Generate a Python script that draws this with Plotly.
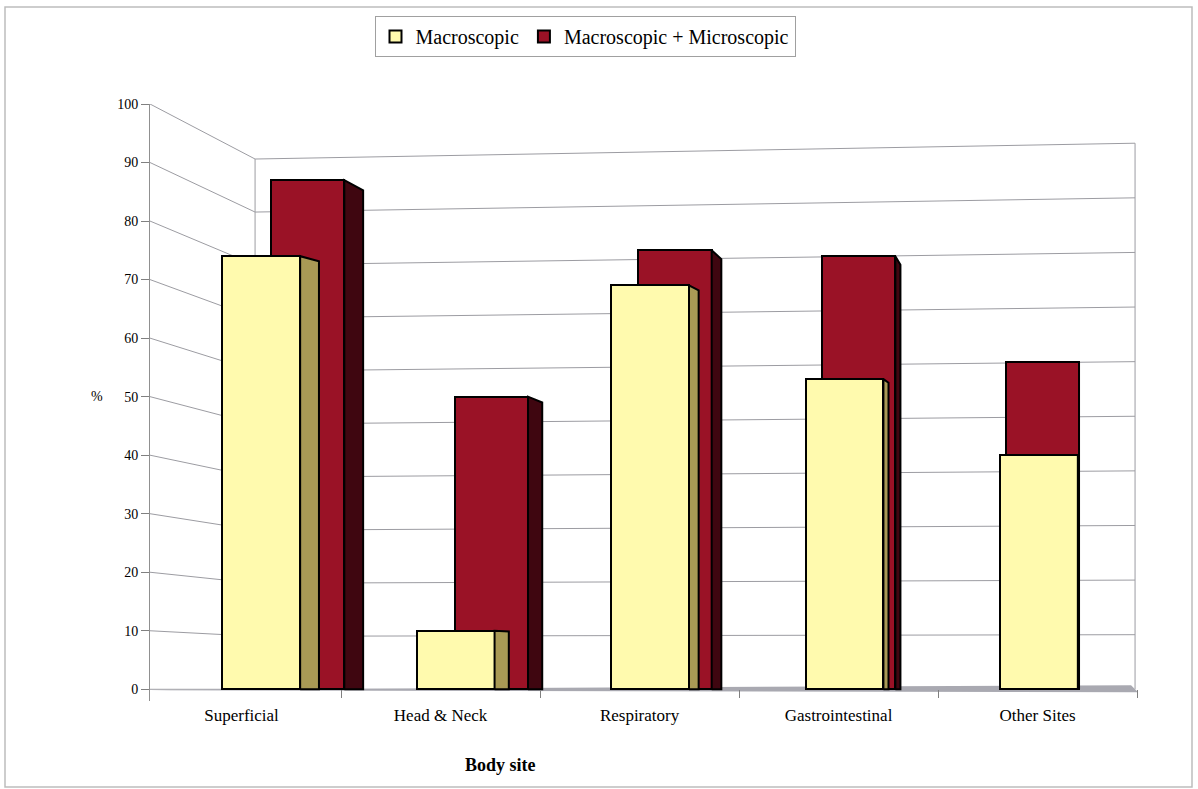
import plotly.graph_objects as go

# ---- data -------------------------------------------------------------
categories = ["Superficial", "Head & Neck", "Respiratory", "Gastrointestinal", "Other Sites"]
macroscopic = [74, 10, 69, 53, 40]
macro_micro = [87, 50, 75, 74, 56]
y_ticks = [0, 10, 20, 30, 40, 50, 60, 70, 80, 90, 100]

# ---- canvas / plot-area geometry ---------------------------------------
W, H = 1198, 789
ML, MR, MT, MB = 150, 53, 104, 88
X_RANGE = [0, 5]
Y_RANGE = [-2, 100]
PLOT_W = W - ML - MR
PLOT_H = H - MT - MB


def px_to_paper(px, py):
    return (px - ML) / PLOT_W, (H - MB - py) / PLOT_H


# ---- simple one-point perspective for the 3-D look ----------------------
VP_X = 4.77            # vanishing point (x, data units) on the floor line
CAT_OFFSET = 0.46      # front-plane position of each category inside its slot
BAR_W = 0.40           # bar width on the front plane

# depth scale factors: (front face, back face) horizontally, back-face vertical shrink
SERIES_DEPTH = {
    "yellow": (0.977, 0.954, 0.988),
    "red": (0.923, 0.900, 0.980),
}
WALL_LEFT_X, WALL_LEFT_S = 0.528, 0.906     # back wall, left corner
WALL_RIGHT_X, WALL_RIGHT_S = 4.95, 0.933    # back wall, right corner


def proj_x(x, s):
    return VP_X + (x - VP_X) * s


def bar_geometry(values, depth):
    s_front, s_back, v_back = depth
    centers, widths, side_x, side_y = [], [], [], []
    for k, v in enumerate(values):
        c = k + CAT_OFFSET
        centers.append(proj_x(c, s_front))
        widths.append(BAR_W * s_front)
        xr_front = proj_x(c + BAR_W / 2, s_front)
        xr_back = proj_x(c + BAR_W / 2, s_back)
        side_x += [xr_front, xr_front, xr_back, xr_back, xr_front, None]
        side_y += [0, v, v * v_back, 0, 0, None]
    return centers, widths, side_x, side_y


YEL_FRONT, YEL_SIDE = "#FFFAAE", "#A99A55"
RED_FRONT, RED_SIDE = "#9A1226", "#3F0610"
OUTLINE = dict(color="black", width=2)
FONT = "Liberation Serif, Times New Roman, serif"

yc, yw, ysx, ysy = bar_geometry(macroscopic, SERIES_DEPTH["yellow"])
rc, rw, rsx, rsy = bar_geometry(macro_micro, SERIES_DEPTH["red"])

fig = go.Figure()

# back series first so the front series covers it
fig.add_trace(go.Bar(
    x=rc, y=macro_micro, width=rw, name="Macroscopic + Microscopic",
    marker=dict(color=RED_FRONT, line=OUTLINE), legendrank=2,
    hovertext=categories,
))
fig.add_trace(go.Bar(
    x=yc, y=macroscopic, width=yw, name="Macroscopic",
    marker=dict(color=YEL_FRONT, line=OUTLINE), legendrank=1,
    hovertext=categories,
))
# side faces of the columns
fig.add_trace(go.Scatter(
    x=rsx, y=rsy, mode="lines", fill="toself", fillcolor=RED_SIDE,
    line=OUTLINE, showlegend=False, hoverinfo="skip",
))
fig.add_trace(go.Scatter(
    x=ysx, y=ysy, mode="lines", fill="toself", fillcolor=YEL_SIDE,
    line=OUTLINE, showlegend=False, hoverinfo="skip",
))

# ---- walls, gridlines and floor ----------------------------------------
GRID = dict(color="#9C9CA2", width=1)
shapes = []
for v in y_ticks:
    yl = v * WALL_LEFT_S
    yr = v * WALL_RIGHT_S
    shapes.append(dict(type="line", xref="x", yref="y", x0=0, y0=v,
                       x1=WALL_LEFT_X, y1=yl, line=GRID, layer="below"))
    if v > 0:
        shapes.append(dict(type="line", xref="x", yref="y", x0=WALL_LEFT_X, y0=yl,
                           x1=WALL_RIGHT_X, y1=yr, line=GRID, layer="below"))
shapes.append(dict(type="line", xref="x", yref="y", x0=WALL_LEFT_X, y0=0,
                   x1=WALL_LEFT_X, y1=100 * WALL_LEFT_S, line=GRID, layer="below"))
shapes.append(dict(type="line", xref="x", yref="y", x0=WALL_RIGHT_X, y0=0,
                   x1=WALL_RIGHT_X, y1=100 * WALL_RIGHT_S, line=GRID, layer="below"))
# floor seen almost edge-on
shapes.append(dict(
    type="path", xref="x", yref="y", layer="below",
    path=f"M 0 -0.15 L 4.965 -0.5 L {WALL_RIGHT_X - 0.02} 0.7 L {WALL_LEFT_X} 0.05 Z",
    fillcolor="#A9A9B1", line=dict(width=0),
))
# outer chart frame
fx0, fy0 = px_to_paper(5, 787)
fx1, fy1 = px_to_paper(1192, 7)
shapes.append(dict(type="rect", xref="paper", yref="paper", x0=fx0, y0=fy0,
                   x1=fx1, y1=fy1, line=dict(color="#BDBDBD", width=1.5), layer="below"))

# ---- annotations ---------------------------------------------------------
pct_x, pct_y = px_to_paper(97, 396)
bs_x, bs_y = px_to_paper(500, 765)
leg_x, leg_y = px_to_paper(585, 16)
x_axis_pos = (0 - Y_RANGE[0]) / (Y_RANGE[1] - Y_RANGE[0])

fig.update_layout(
    width=W, height=H,
    margin=dict(l=ML, r=MR, t=MT, b=MB, autoexpand=False),
    paper_bgcolor="white", plot_bgcolor="rgba(0,0,0,0)",
    barmode="overlay",
    bargap=0,
    font=dict(family=FONT, color="black"),
    shapes=shapes,
    showlegend=True,
    legend=dict(
        orientation="h", x=leg_x, y=leg_y, xanchor="center", yanchor="top",
        bordercolor="#A0A0A0", borderwidth=1, bgcolor="white",
        font=dict(family=FONT, size=20, color="black"),
        itemsizing="constant", itemwidth=30, traceorder="normal",
    ),
    annotations=[
        dict(text="%", x=pct_x, y=pct_y, xref="paper", yref="paper",
             xanchor="center", yanchor="middle",
             showarrow=False, font=dict(family=FONT, size=14, color="black")),
        dict(text="<b>Body site</b>", x=bs_x, y=bs_y, xref="paper", yref="paper",
             xanchor="center", yanchor="middle",
             showarrow=False, font=dict(family=FONT, size=18, color="black")),
    ],
    xaxis=dict(
        range=X_RANGE, anchor="free", position=x_axis_pos,
        tickvals=[k + CAT_OFFSET for k in range(len(categories))],
        ticktext=categories, ticks="", ticklabelstandoff=14,
        tickfont=dict(family=FONT, size=17, color="black"),
        showgrid=False, zeroline=False, showline=False,
        minor=dict(tick0=CAT_OFFSET - 0.5, dtick=1, ticks="outside",
                   ticklen=8, tickcolor="#808080", showgrid=False),
    ),
    yaxis=dict(
        range=Y_RANGE, tickvals=y_ticks, ticks="outside", ticklen=8,
        tickcolor="#808080", showline=True, linecolor="#909090", linewidth=1,
        showgrid=False, zeroline=False, ticklabelstandoff=0,
        tickfont=dict(family=FONT, size=14, color="black"),
    ),
)

fig.write_html("out.html")
